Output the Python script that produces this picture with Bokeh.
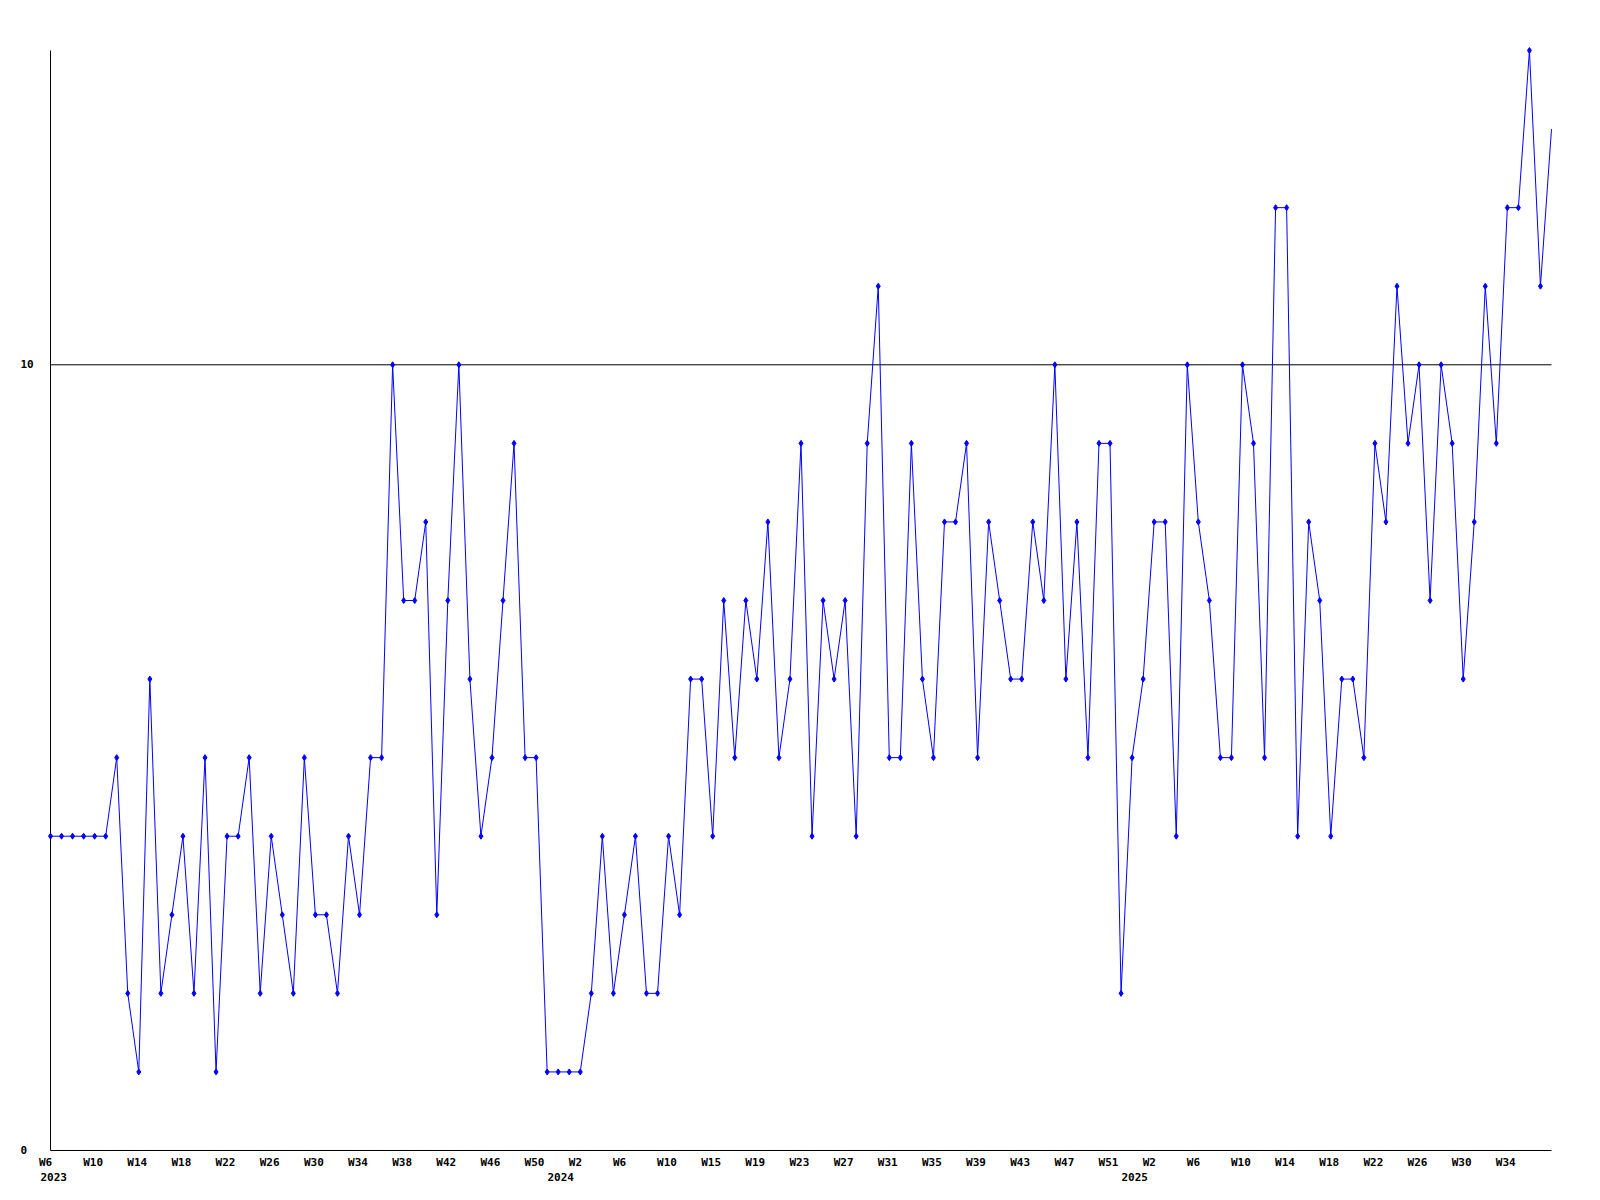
from bokeh.plotting import figure
from bokeh.models import Range1d
from bokeh.core.properties import value
from bokeh.embed import file_html
from bokeh.resources import INLINE

# Weekly values, starting 2023 W6
values = [
    4, 4, 4, 4, 4, 4, 5, 2, 1, 6, 2, 3, 4, 2, 5, 1, 4, 4, 5, 2, 4, 3, 2, 5,
    3, 3, 2, 4, 3, 5, 5, 10, 7, 7, 8, 3, 7, 10, 6, 4, 5, 7, 9, 5, 5, 1, 1, 1,
    1, 2, 4, 2, 3, 4, 2, 2, 4, 3, 6, 6, 4, 7, 5, 7, 6, 8, 5, 6, 9, 4, 7,
    6, 7, 4, 9, 11, 5, 5, 9, 6, 5, 8, 8, 9, 5, 8, 7, 6, 6, 8, 7, 10, 6, 8, 5,
    9, 9, 2, 5, 6, 8, 8, 4, 10, 8, 7, 5, 5, 10, 9, 5, 12, 12, 4, 8, 7, 4, 6,
    6, 5, 9, 8, 11, 9, 10, 7, 10, 9, 6, 8, 11, 9, 12, 12, 14, 11, 13,
]
start_year = 2023
start_week = 6
weeks_per_year = {2023: 52, 2024: 52, 2025: 52}

x_tick_labels = [
    "W6", "W10", "W14", "W18", "W22", "W26", "W30", "W34", "W38", "W42", "W46", "W50",
    "W2", "W6", "W10", "W15", "W19", "W23", "W27", "W31", "W35", "W39", "W43", "W47", "W51",
    "W2", "W6", "W10", "W14", "W18", "W22", "W26", "W30", "W34",
]
x_tick_step = 4
y_ticks = [0, 10]
y_max = 14

idx = list(range(len(values)))
last = idx[-1]

# year of every point -> first index of each year
years = []
yr, wk = start_year, start_week
for _ in idx:
    years.append(yr)
    wk += 1
    if wk > weeks_per_year[yr]:
        wk = 1
        yr += 1
year_first = {}
for i, y in zip(idx, years):
    year_first.setdefault(y, i)

# ---- layout (pixels) ----
W, H = 1592, 1192
left_px, right_px = 50, 1551      # x of first / last week
top_px, bottom_px = 50, 1150      # y of y_max / 0
sx = (right_px - left_px) / last
sy = (bottom_px - top_px) / y_max
x_start = -left_px / sx
x_end = x_start + W / sx
y_start = -(H - bottom_px) / sy
y_end = y_start + H / sy

FONT = "DejaVu Sans Mono"
txt = dict(text_font=value(FONT), text_font_style="bold", text_font_size="11px",
           text_color="black")

p = figure(
    width=W, height=H,
    x_range=Range1d(x_start, x_end), y_range=Range1d(y_start, y_end),
    output_backend="svg", toolbar_location=None,
    x_axis_location=None, y_axis_location=None,
    min_border=0,
)
p.grid.visible = False
p.outline_line_color = None
p.background_fill_color = "white"
p.border_fill_color = "white"

# axis lines and gridline at 10
p.segment(x0=[0, 0], y0=[0, 0], x1=[0, last], y1=[y_max, 0], line_color="black", line_width=1)
for v in y_ticks[1:]:
    p.segment(x0=[0], y0=[v], x1=[last], y1=[v], line_color="black", line_width=1)

p.line(idx, values, line_color="#0000ff", line_width=1)
p.scatter(idx[:-1], values[:-1], marker="diamond", size=6, color="#0000ff")

# x tick labels
xt_x = [i * x_tick_step for i in range(len(x_tick_labels))]
p.text(x=xt_x, y=[0] * len(xt_x), text=x_tick_labels, x_offset=-11.5, y_offset=11.8,
       text_align="left", text_baseline="middle", **txt)

# year labels
for k, (y, i) in enumerate(year_first.items()):
    if k == 0:
        p.text(x=[i], y=[0], text=[str(y)], x_offset=-10, y_offset=26.5,
               text_align="left", text_baseline="middle", **txt)
    else:
        p.text(x=[i], y=[0], text=[str(y)], x_offset=-8.5, y_offset=26.5,
               text_align="center", text_baseline="middle", **txt)

# y tick labels
p.text(x=[0] * len(y_ticks), y=y_ticks, text=[str(v) for v in y_ticks], x_offset=-30,
       y_offset=-0.3, text_align="left", text_baseline="middle", **txt)

open("out.html", "w").write(file_html(p, INLINE))
